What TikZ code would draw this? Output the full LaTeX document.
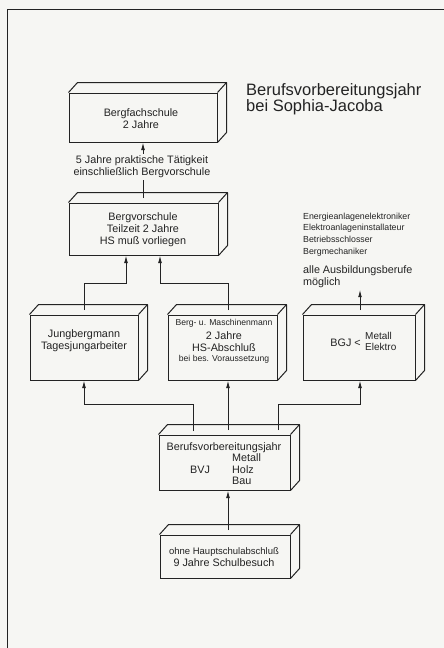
\documentclass[tikz,border=0pt]{standalone}
\usepackage{fontspec}
\setmainfont{Liberation Sans}
\usetikzlibrary{arrows.meta,calc}
\definecolor{paper}{RGB}{246,246,243}
\definecolor{ink}{RGB}{35,35,35}
\tikzset{
  boxface/.style={draw=ink, line width=1pt, fill=paper, inner sep=0pt},
  boxline/.style={draw=ink, line width=1pt, line join=round},
  conn/.style={draw=ink, line width=0.9pt},
  arr/.style={conn, -{Latex[length=7.5pt,width=3.8pt]}},
  btext/.style={font=\fontsize{10.8}{12}\selectfont, text=ink, align=center, inner sep=0pt},
  ctext/.style={font=\fontsize{8.6}{11.6}\selectfont, text=ink, align=center, inner sep=0pt},
  ltext/.style={font=\fontsize{8.8}{11.7}\selectfont, text=ink, align=left, inner sep=0pt, anchor=west},
  titletext/.style={font=\fontsize{16.5}{15.5}\selectfont, text=ink, align=left, inner sep=0pt, anchor=west}
}
\newcommand\drawcuboid[4]{%
  \node[boxface, minimum width=#3pt, minimum height=#4pt] (#1) at #2 {};
  \draw[boxline] (#1.north west) -- ++(9,-10) -- ($(#1.north east)+(9,-10)$) -- ($(#1.south east)+(9,-10)$) -- (#1.south east);
  \draw[boxline] (#1.north east) -- ++(9,-10);
}
\begin{document}
\begin{tikzpicture}[x=1pt,y=-1pt]
\fill[paper] (0,0) rectangle (444,648);
\useasboundingbox (0,0) rectangle (444,648);
\draw[ink, line width=1.5pt] (444,9.5) -- (7.5,9.5) -- (7.5,648);

% boxes
\drawcuboid{b1}{(143,117.5)}{148}{49}
\drawcuboid{b2}{(143.5,229)}{149}{52}
\drawcuboid{b3}{(84,347.5)}{108}{65}
\drawcuboid{b4}{(222.5,347.5)}{109}{65}
\drawcuboid{b5}{(359,347.5)}{112}{65}
\drawcuboid{b6}{(224.5,462.5)}{131}{55}
\drawcuboid{b7}{(225,556.5)}{130}{43}

% title
\node[titletext] (title) at (246,99) {Berufsvorbereitungsjahr\\bei Sophia-Jacoba};

% box texts
\node[btext] (t1) at (141,118.5) {Bergfachschule\\2 Jahre};
\node[btext, inner sep=2pt] (t5) at (142,167) {5 Jahre praktische Tätigkeit\\einschließlich Bergvorschule};
\node[btext] (t2) at (143,229.5) {Bergvorschule\\Teilzeit 2 Jahre\\HS muß vorliegen};
\node[btext] (t3) at (84,340.5) {Jungbergmann\\Tagesjungarbeiter};
\node[ctext] (t4a) at (224,323.5) {Berg- u. Maschinenmann};
\node[btext] (t4b) at (224,341.5) {2 Jahre\\HS-Abschluß};
\node[ctext] (t4c) at (224,359.5) {bei bes. Voraussetzung};
\node[btext, anchor=east] (bgj) at (361,342.5) {BGJ \raisebox{-0.5pt}{<}};
\node[btext, align=left, anchor=west, font=\fontsize{10}{11.5}\selectfont] (me) at (365,341.5) {Metall\\Elektro};
\node[ltext] (list) at (303,234.5) {Energieanlagenelektroniker\\Elektroanlageninstallateur\\Betriebsschlosser\\Bergmechaniker};
\node[btext, align=left, anchor=west, inner sep=2pt] (alle) at (301,276.5) {alle Ausbildungsberufe\\möglich};
\node[btext] (t6a) at (224,447.5) {Berufsvorbereitungsjahr};
\node[btext, anchor=west] (t6m) at (232,458) {Metall};
\node[btext] (t6b) at (200,469.5) {BVJ};
\node[btext, anchor=west] (t6h) at (232,469.5) {Holz};
\node[btext, anchor=west] (t6u) at (232,481) {Bau};
\node[btext] (t7) at (224,557.5) {{\fontsize{9.5}{12}\selectfont ohne Hauptschulabschluß}\\9 Jahre Schulbesuch};

% connector points
\coordinate (b2top) at (143,198);
\coordinate (k1) at (126,283);
\coordinate (k2) at (160,283);
\coordinate (j3) at (84,310);
\coordinate (j4) at (228,310);
\coordinate (m1) at (193,431);
\coordinate (m2) at (228,430);
\coordinate (m3) at (278,430);
\coordinate (h1) at (84,404);
\coordinate (h3) at (360,404);
\coordinate (n1) at (228,530);
\coordinate (g1) at (360,310);

% connectors
\draw[conn] (b2top) -- (b2top |- t5.south);
\draw[arr] (t5.north -| b1.south) -- (b1.south);
\draw[arr] (j3) |- (k1) -- (k1 |- b2.south);
\draw[arr] (j4) |- (k2) -- (k2 |- b2.south);
\draw[arr] (m1) |- (h1) -- (h1 |- b3.south);
\draw[arr] (m2) -- (m2 |- b4.south);
\draw[arr] (m3) |- (h3) -- (h3 |- b5.south);
\draw[arr] (n1) -- (n1 |- b6.south);
\draw[arr] (g1) -- (g1 |- alle.south);
\end{tikzpicture}
\end{document}
